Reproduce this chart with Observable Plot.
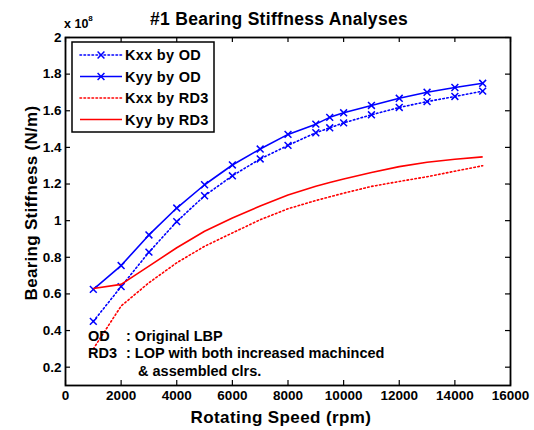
<!DOCTYPE html>
<html>
<head>
<meta charset="utf-8">
<script src="https://cdn.jsdelivr.net/npm/d3@7"></script>
<script src="https://cdn.jsdelivr.net/npm/@observablehq/plot@0.6"></script>
<style>
  html, body { margin: 0; padding: 0; background: #fff; }
  #chart { width: 534px; height: 430px; }
</style>
</head>
<body>
<div id="chart"></div>
<script>
// Data (stiffness values in units of 1e8 N/m)
const rpm     = [1000, 2000, 3000, 4000, 5000, 6000, 7000, 8000, 9000, 9500, 10000, 11000, 12000, 13000, 14000, 15000];
const kxxOD   = [0.45, 0.64, 0.828, 0.995, 1.136, 1.245, 1.337, 1.411, 1.48, 1.507, 1.534, 1.578, 1.618, 1.65, 1.678, 1.707];
const kyyOD   = [0.625, 0.755, 0.922, 1.069, 1.196, 1.304, 1.391, 1.471, 1.527, 1.564, 1.589, 1.629, 1.668, 1.701, 1.727, 1.75];
const kxxRD3  = [0.30, 0.534, 0.661, 0.77, 0.86, 0.933, 1.005, 1.065, 1.11, 1.13, 1.15, 1.187, 1.214, 1.24, 1.27, 1.30];
const kyyRD3  = [0.63, 0.652, 0.752, 0.852, 0.942, 1.015, 1.08, 1.14, 1.188, 1.208, 1.227, 1.263, 1.295, 1.319, 1.335, 1.348];
const xTicks  = [0, 2000, 4000, 6000, 8000, 10000, 12000, 14000, 16000];
const yTicks  = [0.2, 0.4, 0.6, 0.8, 1, 1.2, 1.4, 1.6, 1.8, 2];

const seriesNames = ["Kxx by OD", "Kyy by OD", "Kxx by RD3", "Kyy by RD3"];
const seriesVals  = [kxxOD, kyyOD, kxxRD3, kyyRD3];
const seriesColor = ["#0000ff", "#0000ff", "#ff0000", "#ff0000"];
const seriesDash  = ["1.5,2.5", null, "1.5,2.5", null];
const seriesMark  = [true, true, false, false];

const rows = (k) => rpm.map((x, i) => ({x, y: seriesVals[k][i]}));

const W = 534, H = 430;
const mL = 65, mR = 24, mT = 37, mB = 45;
const pw = W - mL - mR, ph = H - mT - mB;
const FONT = "'Liberation Sans', Arial, Helvetica, sans-serif";

const marks = [];
for (let k = 0; k < 4; k++) {
  marks.push(Plot.line(rows(k), {x: "x", y: "y", stroke: seriesColor[k], strokeWidth: 1.6,
    strokeDasharray: seriesDash[k] ?? undefined, strokeLinecap: seriesDash[k] ? "round" : "butt"}));
  if (seriesMark[k]) {
    marks.push(Plot.dot(rows(k), {x: "x", y: "y", symbol: "times", r: 3.2, stroke: seriesColor[k], strokeWidth: 1.5}));
  }
}

const chart = Plot.plot({
  width: W, height: H,
  marginLeft: mL, marginRight: mR, marginTop: mT, marginBottom: mB,
  style: {fontFamily: FONT, fontWeight: "bold", fontSize: "13.5px", color: "#000", background: "#fff"},
  x: {domain: [0, 16000], ticks: xTicks},
  y: {domain: [0.1, 2], ticks: yTicks},
  marks: [
    Plot.axisX(xTicks, {tickSize: 0, tickPadding: 5, tickFormat: d => String(d), label: null, fontSize: 13.5, fontWeight: "bold"}),
    Plot.axisY(yTicks, {tickSize: 0, tickPadding: 4, tickFormat: d => String(+d.toFixed(1)), label: null, fontSize: 13.5, fontWeight: "bold"}),
    ...marks,
    Plot.tickX(xTicks, {x: d => d, insetTop: ph - 5, stroke: "#000", strokeWidth: 1.2}),
    Plot.tickX(xTicks, {x: d => d, insetBottom: ph - 5, stroke: "#000", strokeWidth: 1.2}),
    Plot.tickY(yTicks, {y: d => d, insetRight: pw - 5, stroke: "#000", strokeWidth: 1.2}),
    Plot.tickY(yTicks, {y: d => d, insetLeft: pw - 5, stroke: "#000", strokeWidth: 1.2}),
    Plot.frame({stroke: "#000", strokeWidth: 1.8})
  ]
});
document.getElementById("chart").appendChild(chart);

const svg = d3.select(chart);
const g = svg.append("g").attr("font-family", FONT).attr("font-weight", "bold").attr("fill", "#000")
  .attr("text-anchor", "start");

// Title
g.append("text").attr("x", 279).attr("y", 25).attr("text-anchor", "middle").attr("font-size", 17.5)
  .attr("letter-spacing", 0.3).text("#1 Bearing Stiffness Analyses");
// Exponent label
const ex = g.append("text").attr("x", 64).attr("y", 28).attr("font-size", 12.5);
ex.append("tspan").text("x 10");
ex.append("tspan").attr("dy", -7).attr("font-size", 8).text("8");
// Axis labels
g.append("text").attr("x", 281).attr("y", 423).attr("text-anchor", "middle").attr("font-size", 17)
  .attr("letter-spacing", 0.4).text("Rotating Speed (rpm)");
g.append("text").attr("transform", "translate(37,203) rotate(-90)").attr("text-anchor", "middle").attr("font-size", 17)
  .attr("letter-spacing", 0.3).text("Bearing Stiffness (N/m)");

// Annotation
const a1 = g.append("text").attr("y", 341).attr("font-size", 14.5);
a1.append("tspan").attr("x", 88).text("OD");
a1.append("tspan").attr("x", 126).text(": Original LBP");
const a2 = g.append("text").attr("y", 358).attr("font-size", 14.5);
a2.append("tspan").attr("x", 88).text("RD3");
a2.append("tspan").attr("x", 126).text(": LOP with both increased machinced");
g.append("text").attr("x", 138).attr("y", 375.5).attr("font-size", 14.5).text("& assembled clrs.");

// Legend
const lg = svg.append("g").attr("text-anchor", "start");
lg.append("rect").attr("x", 72).attr("y", 42).attr("width", 142).attr("height", 90)
  .attr("fill", "#fff").attr("stroke", "#000").attr("stroke-width", 1.5);
const ly = [55, 76.5, 98, 119.5];
const sym = d3.symbol(d3.symbolTimes, 3.2 * 3.2 * Math.PI)();
seriesNames.forEach((name, k) => {
  lg.append("line").attr("x1", 80).attr("x2", 122).attr("y1", ly[k]).attr("y2", ly[k])
    .attr("stroke", seriesColor[k]).attr("stroke-width", 1.6)
    .attr("stroke-dasharray", seriesDash[k]).attr("stroke-linecap", seriesDash[k] ? "round" : "butt");
  if (seriesMark[k]) {
    lg.append("path").attr("d", sym).attr("transform", `translate(101,${ly[k]})`)
      .attr("fill", "none").attr("stroke", seriesColor[k]).attr("stroke-width", 1.5);
  }
  lg.append("text").attr("x", 125).attr("y", ly[k]).attr("dy", "0.36em")
    .attr("font-family", FONT).attr("font-weight", "bold").attr("font-size", 14.5).attr("fill", "#000")
    .attr("letter-spacing", 0.3).text(name);
});
</script>
</body>
</html>
